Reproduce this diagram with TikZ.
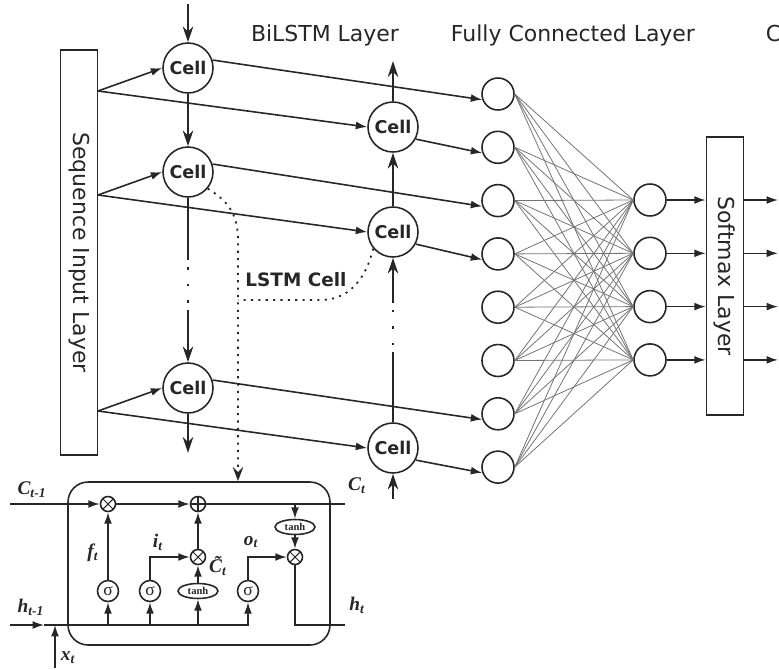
\documentclass[tikz,border=0pt]{standalone}
\usepackage{fontspec}
\setmainfont{Liberation Serif}
\setsansfont{DejaVu Sans}
\usetikzlibrary{positioning,arrows.meta,shapes}

\begin{document}
\begin{tikzpicture}[x=0.02cm, y=-0.02cm, line width=0.9pt, color=black!85,
    >={Latex[length=6.5pt, width=4.5pt]},
    layerbox/.style={draw, rectangle, minimum height=0.74cm, inner sep=0pt, font=\sffamily\fontsize{12.5}{15}\selectfont},
    headline/.style={inner sep=0pt, font=\sffamily\fontsize{12.5}{15}\selectfont},
    cell/.style={draw, circle, minimum size=1cm, inner sep=0pt, font=\sffamily\bfseries\fontsize{10}{12}\selectfont},
    neuron/.style={draw, circle, minimum size=0.64cm, inner sep=0pt},
    wire/.style={-{Stealth[length=9pt, width=6pt, inset=3pt]}},
    link/.style={draw=black!55, line width=0.45pt},
    hint/.style={dash pattern=on 1.2pt off 3pt, line width=1pt},
    gate/.style={draw, circle, minimum size=0.42cm, inner sep=0pt, font=\fontsize{10}{10}\selectfont},
    squash/.style={draw, ellipse, minimum width=0.8cm, minimum height=0.3cm, inner sep=0pt, font=\bfseries\fontsize{6}{6}\selectfont},
    mult/.style={draw, circle, minimum size=0.3cm, inner sep=0pt,
      path picture={\draw[line width=0.6pt] (path picture bounding box.north west) -- (path picture bounding box.south east)
        (path picture bounding box.north east) -- (path picture bounding box.south west);}},
    sumnode/.style={draw, circle, minimum size=0.3cm, inner sep=0pt,
      path picture={\draw[line width=0.6pt] (path picture bounding box.north) -- (path picture bounding box.south)
        (path picture bounding box.west) -- (path picture bounding box.east);}},
    sym/.style={inner sep=1pt, font=\bfseries\itshape\fontsize{11}{11}\selectfont}
    ]
    \useasboundingbox (0,0) rectangle (779,670);

    \node[headline] (t_bilstm) at (325,35) {BiLSTM Layer};
    \node[headline] (t_fc) at (573,35) {Fully Connected Layer};
    \node[headline, anchor=west] (t_class) at (765,35) {Classification Layer};

    \node[layerbox, minimum width=8.1cm, rotate=-90] (seq) at (79,252.5) {Sequence Input Layer};
    \coordinate (s1) at (98,91);
    \coordinate (s2) at (98,195);
    \coordinate (s3) at (98,411);

    \node[cell] (c1) at (188,68) {Cell};
    \node[cell] (c2) at (188,172) {Cell};
    \node[cell] (c3) at (188,388) {Cell};
    \node[cell] (r1) at (393,127) {Cell};
    \node[cell] (r2) at (393,232) {Cell};
    \node[cell] (r3) at (393,448) {Cell};

    \foreach \k in {1,2,3} {
      \draw[->] (s\k) -- (c\k.west);
      \draw[->] (s\k) -- (r\k.west);
    };

    \draw[wire] ([yshift=0.76cm]c1.north) -- (c1);
    \draw[wire] (c1) -- (c2);
    \draw[wire, dash pattern=on 1.25cm off 0.14cm on 0.05cm off 0.28cm on 0.05cm off 0.28cm on 0.05cm off 0.14cm on 3cm] (c2) -- (c3);
    \draw[wire] (c3) -- ([yshift=-0.78cm]c3.south);

    \draw[wire] ([yshift=-0.5cm]r3.south) -- (r3);
    \draw[wire, dash pattern=on 1.4cm off 0.14cm on 0.05cm off 0.28cm on 0.05cm off 0.28cm on 0.05cm off 0.14cm on 3cm] (r3) -- (r2);
    \draw[wire] (r2) -- (r1);
    \draw[wire] (r1) -- ([yshift=0.8cm]r1.north);

    \foreach \i in {1,...,8} {
      \node[neuron] (f\i) at (498,{94+(\i-1)*53.3}) {};
    };
    \foreach \j in {1,...,4} {
      \node[neuron] (o\j) at (650,{200+(\j-1)*53.3}) {};
    };
    \foreach \i in {1,...,8} {
      \foreach \j in {1,...,4} {
        \draw[link] (f\i.east) -- (o\j.west);
      };
    };

    \draw[->] (c1.18) -- (f1.200);
    \draw[->] (r1.-28) -- (f2.200);
    \draw[->] (c2.18) -- (f3.200);
    \draw[->] (r2.-28) -- (f4.200);
    \draw[->] (c3.18) -- (f7.200);
    \draw[->] (r3.-28) -- (f8.200);

    \node[layerbox, minimum width=5.56cm, rotate=-90] (soft) at (725,276) {Softmax Layer};
    \coordinate (edge) at (778,0);
    \foreach \j in {1,...,4} {
      \draw[->] (o\j) -- (o\j -| soft.south);
      \draw[->] (o\j -| soft.north) -- (o\j -| edge);
    };

    \node[font=\sffamily\bfseries\fontsize{10.5}{12}\selectfont] (lstm_label) at (296,280) {LSTM Cell};
    \coordinate (ljoin) at (238,300);
    \coordinate (ldrop) at (238,481);
    \draw[hint, -{Stealth[length=8pt, width=6pt, inset=3pt]}] (c2.-40) .. controls (226,200) and (238,212) .. (238,240) -- (ldrop);
    \draw[hint] (r2.220) .. controls (364,285) and (345,300) .. (320,300) -- (ljoin);

    % LSTM cell
    \node[draw, rounded corners=0.4cm, minimum width=5.24cm, minimum height=3.26cm] (lstm) at (199,563.5) {};
    \coordinate (cin) at (10,504);
    \coordinate (cout) at (345,504);
    \coordinate (hin) at (10,625);
    \coordinate (hj) at (44,625);
    \coordinate (hout) at (345,625);
    \coordinate (xin) at (55,668);

    \node[mult] (mf) at (108,504) {};
    \node[sumnode] (ac) at (198,504) {};
    \node[mult] (mi) at (198,557) {};
    \node[mult] (mo) at (295,557) {};
    \node[gate] (sf) at (108,591) {σ};
    \node[gate] (si) at (150,591) {σ};
    \node[squash] (tc) at (198,591) {tanh};
    \node[gate] (so) at (248,591) {σ};
    \node[squash] (to) at (295,527) {tanh};

    \draw[->] (cin) -- (mf);
    \draw[->] (mf) -- (ac);
    \draw (ac) -- (cout);
    \draw[->] (to |- cin) -- (to);
    \draw[->] (to) -- (mo);
    \draw (mo) |- (hout);
    \draw[->] (hin) -- (hj);
    \draw[->] (hj) -| (so);
    \draw[->] (xin) -- (xin |- hin);
    \foreach \g in {sf,si,tc} {
      \draw[->] (\g |- hin) -- (\g);
    };
    \draw[->] (sf) -- (mf);
    \draw[->] (si) |- (mi);
    \draw[->] (tc) -- (mi);
    \draw[->] (mi) -- (ac);
    \draw[->] (so) |- (mo);

    \node[sym] (l_cprev) at (32,490) {C\textsubscript{t-1}};
    \node[sym] (l_hprev) at (31,607) {h\textsubscript{t-1}};
    \node[sym] (l_x) at (68,658) {x\textsubscript{t}};
    \node[sym] (l_f) at (93,553) {f\textsubscript{t}};
    \node[sym] (l_i) at (158,542) {i\textsubscript{t}};
    \node[sym] (l_o) at (251,542) {o\textsubscript{t}};
    \node[sym] (l_ctilde) at (218,566) {\~{C}\textsubscript{t}};
    \node[sym] (l_c) at (357,486) {C\textsubscript{t}};
    \node[sym] (l_h) at (357,605) {h\textsubscript{t}};
  \end{tikzpicture}
\end{document}
